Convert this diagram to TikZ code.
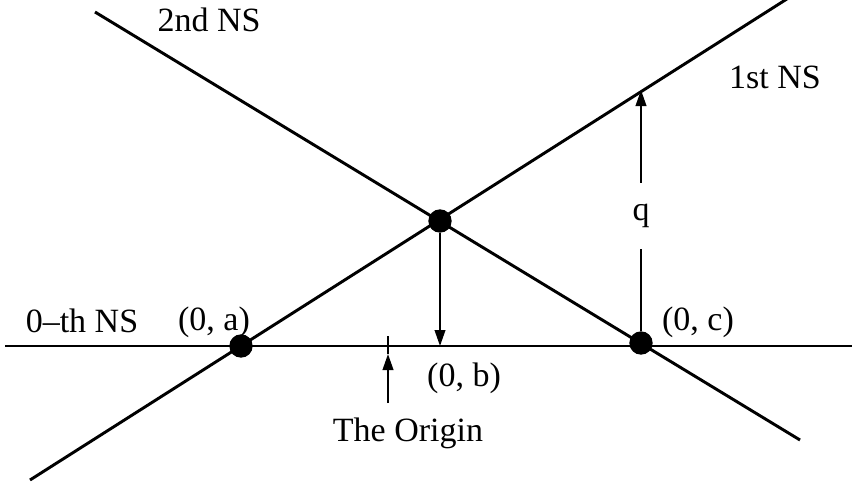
\documentclass[tikz,border=0pt]{standalone}
\usepackage{fontspec}
\setmainfont{Liberation Serif}
\usetikzlibrary{arrows.meta}
\begin{document}
\begin{tikzpicture}[x=0.75pt,y=-0.75pt,
  nsline/.style={line width=2.2pt},
  arr/.style={line width=1.4pt,-{Triangle[length=12pt,width=8pt]}},
  thinline/.style={line width=1.4pt},
  dot/.style={circle,fill=black,inner sep=0pt,minimum size=17.5pt},
  lbl/.style={font=\fontsize{25.5}{30}\selectfont,inner sep=0pt}]
\useasboundingbox (0,0) rectangle (852,500);
% end points of the three lines
\coordinate (h1) at (5,346);
\coordinate (h2) at (852,346);
\coordinate (p1) at (30,480);
\coordinate (p2) at (790,-3);
\coordinate (m1) at (95,12);
\coordinate (m2) at (800,440);
\draw[nsline] (h1) -- (h2);
\draw[nsline] (p1) -- (p2);
\draw[nsline] (m1) -- (m2);
% intersection dots
\node[dot] (A) at (241,346) {};
\node[dot] (B) at (440,221) {};
\node[dot] (C) at (641,343) {};
% arrow from B down to the 0-th line
\coordinate (bfoot) at (440,346);
\draw[arr] (B) -- (bfoot);
% q arrow
\coordinate (T) at (641,90);
\node[lbl,inner ysep=16pt,inner xsep=4pt] (q) at (641,216) {q};
\draw[thinline] (C) -- (q);
\draw[arr] (q) -- (T);
% origin tick and arrow
\coordinate (o1) at (388,336);
\coordinate (o2) at (388,354);
\coordinate (otail) at (388,403);
\draw[thinline] (o1) -- (o2);
\draw[arr] (otail) -- (o2);
% labels
\node[lbl] (l2) at (209,20) {2nd NS};
\node[lbl] (l1) at (775,77) {1st NS};
\node[lbl] (l0) at (82,321) {0–th NS};
\node[lbl] (la) at (214,322) {(0, a)};
\node[lbl] (lb) at (464,378) {(0, b)};
\node[lbl] (lc) at (698,322) {(0, c)};
\node[lbl] (lo) at (408,433) {The Origin};
\end{tikzpicture}
\end{document}
